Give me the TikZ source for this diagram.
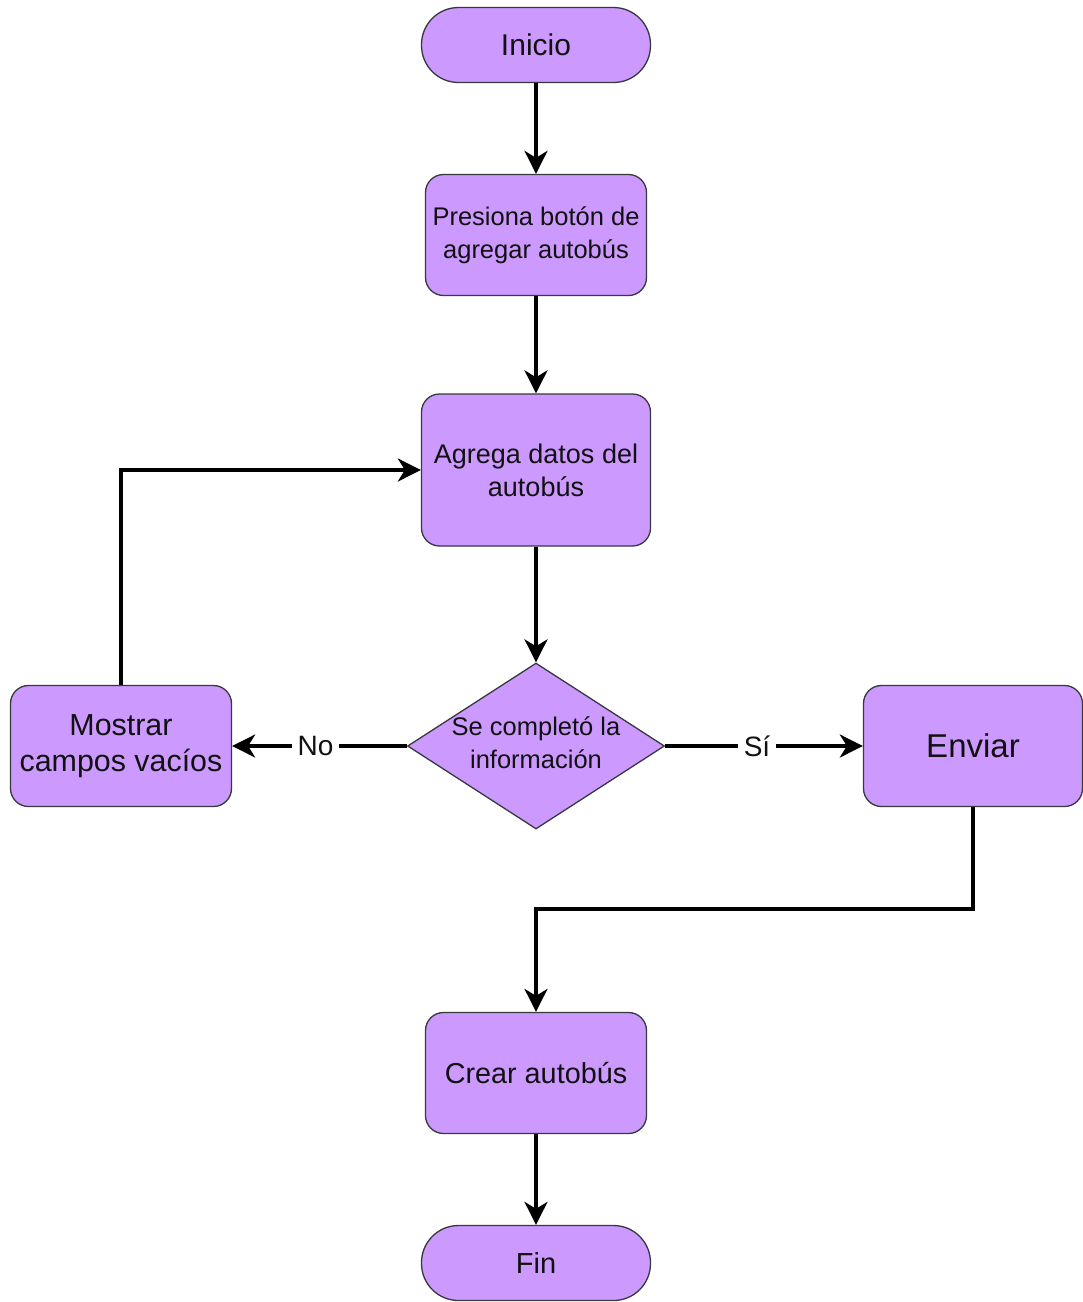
\documentclass[tikz,border=0pt]{standalone}
\usepackage{fontspec}
\setmainfont{Liberation Sans}
\usetikzlibrary{calc,positioning,arrows.meta,shapes.geometric}
\definecolor{Lilac}{HTML}{CC99FF}
\definecolor{Edge}{HTML}{36393D}
\definecolor{Ink}{HTML}{111111}
\begin{document}
\begin{tikzpicture}[x=1pt,y=-1pt,
  box/.style={draw=Edge,fill=Lilac,line width=1.3pt,rounded corners=18pt,minimum width=221pt,minimum height=121pt,inner sep=2pt,align=center,text=Ink},
  term/.style={draw=Edge,fill=Lilac,line width=1.3pt,rounded corners=37pt,minimum width=229pt,minimum height=75pt,inner sep=2pt,align=center,text=Ink,font=\fontsize{29}{35}\selectfont},
  flow/.style={-{Stealth[length=23pt,width=23pt,inset=7pt]},line width=3.4pt,black},
  tag/.style={fill=white,inner sep=6pt,text=Ink,font=\fontsize{28}{34}\selectfont}]
\useasboundingbox (0,0) rectangle (1083,1302);
\node[term,font=\fontsize{30}{36}\selectfont] (inicio) at (536,45) {Inicio};
\node[box,font=\fontsize{25.5}{33}\selectfont] (presiona) at (536,235) {Presiona botón de\\agregar autobús};
\node[box,minimum width=229pt,minimum height=152pt,font=\fontsize{27}{33}\selectfont] (agrega) at (536,470) {Agrega datos del\\autobús};
\node[draw=Edge,fill=Lilac,line width=1.3pt,diamond,aspect=1.55,minimum width=257pt,minimum height=166pt,inner sep=0pt,label={[align=center,text=Ink,font=\fontsize{25.5}{33}\selectfont,yshift=3pt]center:Se completó la\\información}] (decision) at (536,746) {};
\node[box,font=\fontsize{30.4}{36}\selectfont] (mostrar) at (121,746) {Mostrar\\campos vacíos};
\node[box,minimum width=219pt,font=\fontsize{33}{38}\selectfont] (enviar) at (973,746) {Enviar};
\node[box,font=\fontsize{28.8}{34}\selectfont] (crear) at (536,1073) {Crear autobús};
\node[term,font=\fontsize{29}{35}\selectfont] (fin) at (536,1263) {Fin};
\draw[flow] (inicio) -- (presiona);
\draw[flow] (presiona) -- (agrega);
\draw[flow] (agrega) -- (decision);
\draw[flow] (decision) -- node[tag,xshift=-4pt]{No} (mostrar);
\draw[flow] (decision) -- node[tag,xshift=-7pt]{Sí} (enviar);
\draw[flow] (mostrar.north) |- (agrega.west);
\draw[flow] (enviar.south) -- ++(0,102) -| (crear.north);
\draw[flow] (crear) -- (fin);
\end{tikzpicture}
\end{document}
